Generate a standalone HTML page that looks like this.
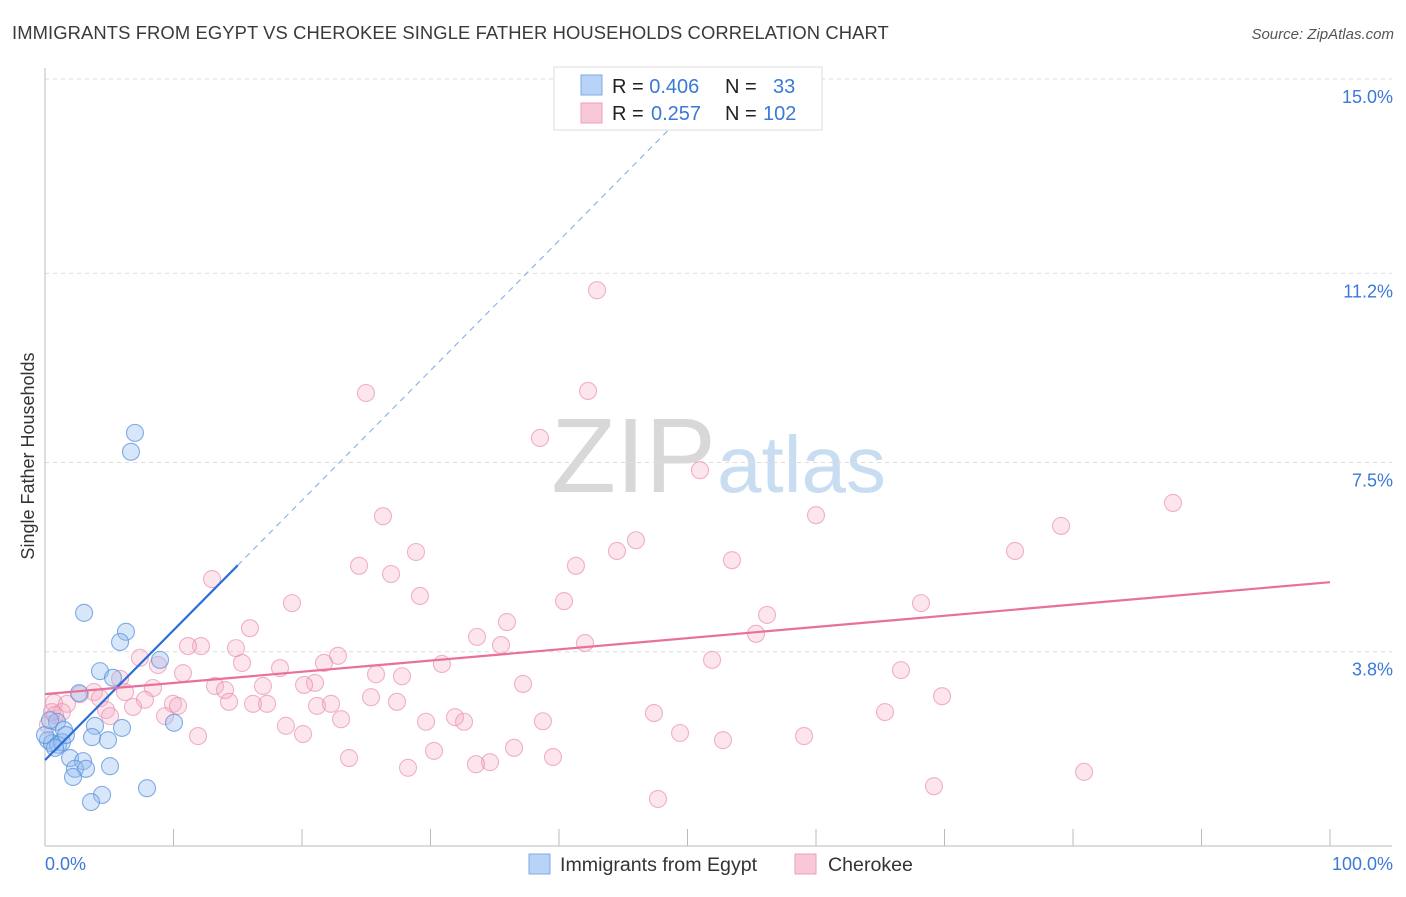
<!DOCTYPE html>
<html><head><meta charset="utf-8"><style>
body{margin:0;background:#fff;font-family:"Liberation Sans",sans-serif}
svg text{font-family:"Liberation Sans",sans-serif}
</style></head><body>
<svg id="c" width="1406" height="892" xmlns="http://www.w3.org/2000/svg">
<text x="12" y="39" font-size="18.4" letter-spacing="0.1" fill="#3a3a3a">IMMIGRANTS FROM EGYPT VS CHEROKEE SINGLE FATHER HOUSEHOLDS CORRELATION CHART</text>
<text x="1394" y="39" font-size="15" fill="#555" font-style="italic" text-anchor="end">Source: ZipAtlas.com</text>
<text x="716" y="492" font-size="106" font-family="Liberation Serif" fill="#d8d8d8" text-anchor="end">ZIP</text>
<text x="717" y="492" font-size="80" fill="#c8dcf2">atlas</text>
<g id="grid"></g>
<line x1="45" y1="68" x2="45" y2="846" stroke="#bbb"/>
<line x1="45" y1="846" x2="1392" y2="846" stroke="#bbb"/>
<text transform="translate(34,456) rotate(-90)" font-size="18" fill="#333" text-anchor="middle">Single Father Households</text>
<text x="45" y="870" font-size="18" fill="#3b78d8">0.0%</text>
<text x="1393" y="870" font-size="18" fill="#3b78d8" text-anchor="end">100.0%</text>
<g id="pts"></g>
<g id="lines"></g>
<g>
<rect x="554" y="67" width="268" height="63" fill="#fff" stroke="#ddd"/>
<rect x="581" y="75" width="21" height="20" fill="#b8d3f5" stroke="#7eaae6"/>
<rect x="581" y="103" width="21" height="20" fill="#f9c8d8" stroke="#eb9fb9"/>
<text x="612" y="93" font-size="20" fill="#222">R = <tspan fill="#3b78d8">0.406</tspan><tspan x="725">N = </tspan><tspan x="773" fill="#3b78d8">33</tspan></text>
<text x="612" y="120" font-size="20" fill="#222">R = <tspan x="651" fill="#3b78d8">0.257</tspan><tspan x="725">N = </tspan><tspan x="763" fill="#3b78d8">102</tspan></text>
</g>
<g>
<rect x="529" y="854" width="21" height="20" fill="#b8d3f5" stroke="#7eaae6"/>
<text x="560" y="871" font-size="19.6" fill="#333">Immigrants from Egypt</text>
<rect x="795" y="854" width="21" height="20" fill="#f9c8d8" stroke="#eb9fb9"/>
<text x="828" y="871" font-size="19.6" fill="#333">Cherokee</text>
</g>
</svg>
<script>
const yTicks=[3.8,7.5,11.2,15.0];
const yTickLabels=["3.8%","7.5%","11.2%","15.0%"];
const xTicks=[0,10,20,30,40,50,60,70,80,90,100];
const egyptX=[7.0,6.69,3.04,6.30,5.84,4.28,8.95,5.29,2.65,0.93,10.04,5.99,3.89,3.66,4.90,1.48,0.23,0.54,1.01,1.32,1.95,2.96,2.33,3.19,5.06,2.18,7.94,4.44,3.58,0,0.78,1.63,0.39];
const egyptY=[8.08,7.71,4.56,4.19,3.99,3.42,3.64,3.29,2.99,2.43,2.41,2.31,2.35,2.13,2.07,2.27,2.07,2.01,1.98,2.03,1.72,1.66,1.51,1.51,1.56,1.35,1.13,1.00,0.86,2.17,1.92,2.17,2.46];
const cherX=[42.96,24.98,42.26,38.52,50.97,87.78,60.0,26.3,79.07,45.99,75.49,28.87,44.51,53.46,24.44,41.32,26.93,13.0,29.18,40.39,19.22,68.17,56.19,35.95,15.95,33.62,55.33,35.49,42.02,14.86,12.14,11.13,7.39,22.8,21.71,30.89,51.91,8.79,18.29,15.33,66.61,25.76,27.78,10.74,37.2,21.01,13.23,8.40,6.23,3.81,2.72,4.28,14.01,20.16,16.96,25.37,69.81,0.70,1.71,1.32,7.78,9.96,10.35,27.39,14.32,16.19,17.28,21.17,22.26,4.75,6.85,9.34,5.06,0.54,0.23,47.39,65.37,38.75,23.04,29.65,31.91,32.61,18.75,11.91,20.08,49.42,52.76,59.07,30.27,36.5,23.66,39.53,34.63,33.54,28.25,80.86,69.18,47.7,5.84,0.78];
const cherY=[10.87,8.86,8.90,7.98,7.35,6.71,6.47,6.45,6.26,5.98,5.77,5.75,5.77,5.59,5.48,5.48,5.32,5.22,4.89,4.79,4.75,4.75,4.52,4.38,4.26,4.09,4.15,3.93,3.97,3.87,3.91,3.91,3.68,3.72,3.58,3.56,3.64,3.54,3.48,3.58,3.44,3.36,3.32,3.38,3.17,3.19,3.13,3.09,3.01,3.01,2.97,2.89,3.05,3.15,3.13,2.91,2.93,2.80,2.78,2.62,2.86,2.78,2.74,2.82,2.82,2.78,2.78,2.74,2.78,2.66,2.72,2.54,2.54,2.62,2.37,2.60,2.62,2.44,2.48,2.43,2.52,2.43,2.35,2.15,2.19,2.21,2.07,2.15,1.86,1.92,1.72,1.74,1.64,1.60,1.53,1.45,1.17,0.92,3.27,2.56];
const egyptFit=[1.68,0.254];
const cherFit=[2.97,0.0219];
const egyptSolidEnd=15;
const NS="http://www.w3.org/2000/svg";
function X(v){return 45+v*12.85;}
function Y(v){return 846-v*51.13;}
function mk(tag,attrs,parent){const e=document.createElementNS(NS,tag);for(const k in attrs)e.setAttribute(k,attrs[k]);parent.appendChild(e);return e;}
const grid=document.getElementById('grid');
yTicks.forEach((t,i)=>{
 const l=mk('line',{x1:45,x2:1392,y1:Y(t),y2:Y(t),stroke:'#ddd','stroke-dasharray':'4,4'},grid);
 
 
 const tx=mk('text',{x:1393,y:Y(t)+24,'font-size':18,fill:'#3b78d8','text-anchor':'end'},grid);
 tx.textContent=yTickLabels[i];
 
 
});
xTicks.forEach(t=>{
 const l=mk('line',{x1:X(t),x2:X(t),y1:829,y2:846,stroke:'#bbb'},grid);
 
 
});
const pts=document.getElementById('pts');
cherX.forEach((x,i)=>{
 const c=mk('circle',{cx:X(x),cy:Y(cherY[i]),r:8.5,fill:'rgba(245,170,196,0.3)',stroke:'rgba(232,140,172,0.65)','stroke-width':1.1},pts);
 
 
});
egyptX.forEach((x,i)=>{
 const c=mk('circle',{cx:X(x),cy:Y(egyptY[i]),r:8.5,fill:'rgba(150,190,240,0.38)',stroke:'rgba(90,145,220,0.75)','stroke-width':1.1},pts);
 
 
});
const lines=document.getElementById('lines');
const eEnd=(15-egyptFit[0])/egyptFit[1];
let l1=mk('line',{x1:X(0),y1:Y(egyptFit[0]),x2:X(egyptSolidEnd),y2:Y(egyptFit[0]+egyptFit[1]*egyptSolidEnd),stroke:'#2a6fd6','stroke-width':2.2},lines);


let l2=mk('line',{x1:X(egyptSolidEnd),y1:Y(egyptFit[0]+egyptFit[1]*egyptSolidEnd),x2:X(eEnd),y2:Y(15),stroke:'#8fb5ea','stroke-width':1.2,'stroke-dasharray':'6,5'},lines);


let l3=mk('line',{x1:X(0),y1:Y(cherFit[0]),x2:X(100),y2:Y(cherFit[0]+cherFit[1]*100),stroke:'#e8709a','stroke-width':2.2},lines);


</script>
</body></html>
